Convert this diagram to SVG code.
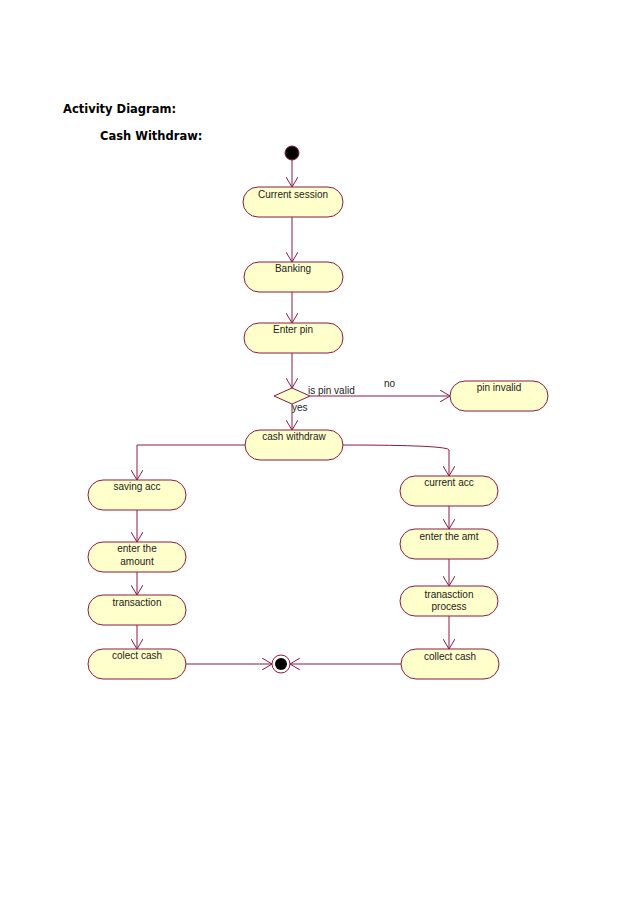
<svg xmlns="http://www.w3.org/2000/svg" width="638" height="903" viewBox="0 0 638 903">
<style>
.n{fill:#ffffcc;stroke:#8b1a45;stroke-width:1}
.t{font-family:"Liberation Sans",Arial,sans-serif;font-size:10px;fill:#222;text-anchor:middle}
.l{font-family:"Liberation Sans",Arial,sans-serif;font-size:10px;fill:#222}
.h{font-family:"DejaVu Sans",sans-serif;font-size:11.5px;font-weight:bold;fill:#000}
.c{fill:none;stroke:#8b1a45;stroke-width:1;marker-end:url(#a)}
</style>
<defs>
<marker id="a" viewBox="0 0 10 12" refX="10" refY="6" markerWidth="10" markerHeight="12" markerUnits="userSpaceOnUse" orient="auto">
<path d="M0,0 L10,6 L0,12" fill="none" stroke="#8b1a45" stroke-width="1"/>
</marker>
</defs>
<rect width="638" height="903" fill="#fff"/>
<text class="h" x="63" y="113">Activity Diagram:</text>
<text class="h" x="100" y="140">Cash Withdraw:</text>
<g id="connectors">
<path class="c" d="M292,160 V187"/>
<path class="c" d="M292,217 V262"/>
<path class="c" d="M292,292 V323"/>
<path class="c" d="M292,353 V388"/>
<path class="c" d="M310,396 H450"/>
<path class="c" d="M292,404 V430"/>
<path class="c" d="M245,445 H137 V480"/>
<path class="c" d="M343,445 Q449,445 449,450 V476"/>
<path class="c" d="M137,510 V542"/>
<path class="c" d="M137,572 V595"/>
<path class="c" d="M137,625 V649"/>
<path class="c" d="M186,664 H272"/>
<path class="c" d="M449,506 V529"/>
<path class="c" d="M449,559 V586"/>
<path class="c" d="M449,616 V649"/>
<path class="c" d="M401,664 H290"/>
</g>
<g id="start"><circle cx="292" cy="153" r="7" fill="#000" stroke="#8b1a45"/></g>
<g id="current-session"><rect class="n" x="243" y="187" width="100" height="30" rx="15"/><text class="t" x="293" y="198">Current session</text></g>
<g id="banking"><rect class="n" x="244" y="262" width="99" height="30" rx="15"/><text class="t" x="293" y="272">Banking</text></g>
<g id="enter-pin"><rect class="n" x="244" y="323" width="99" height="30" rx="15"/><text class="t" x="293" y="333">Enter pin</text></g>
<g id="decision"><path class="n" d="M274,396 L292,388 L310,396 L292,404 Z"/></g>
<text class="l" x="308" y="394">is pin valid</text>
<text class="l" x="384" y="387">no</text>
<text class="l" x="292" y="411">yes</text>
<g id="pin-invalid"><rect class="n" x="450" y="381" width="98" height="30" rx="15"/><text class="t" x="499" y="391">pin invalid</text></g>
<g id="cash-withdraw"><rect class="n" x="245" y="430" width="98" height="30" rx="15"/><text class="t" x="294" y="440">cash withdraw</text></g>
<g id="saving-acc"><rect class="n" x="88" y="480" width="98" height="30" rx="15"/><text class="t" x="137" y="490">saving acc</text></g>
<g id="enter-amount"><rect class="n" x="88" y="542" width="98" height="30" rx="15"/><text class="t" x="137" y="552">enter the</text><text class="t" x="137" y="565">amount</text></g>
<g id="transaction"><rect class="n" x="88" y="595" width="98" height="30" rx="15"/><text class="t" x="137" y="606">transaction</text></g>
<g id="colect-cash"><rect class="n" x="88" y="649" width="98" height="30" rx="15"/><text class="t" x="137" y="659">colect cash</text></g>
<g id="end"><circle cx="281" cy="664" r="9" fill="#fff" stroke="#8b1a45"/><circle cx="281" cy="664" r="6" fill="#000"/></g>
<g id="current-acc"><rect class="n" x="400" y="476" width="98" height="30" rx="15"/><text class="t" x="449" y="486">current acc</text></g>
<g id="enter-amt"><rect class="n" x="400" y="529" width="98" height="30" rx="15"/><text class="t" x="449" y="540">enter the amt</text></g>
<g id="tranasction-process"><rect class="n" x="400" y="586" width="98" height="30" rx="15"/><text class="t" x="449" y="598">tranasction</text><text class="t" x="449" y="610">process</text></g>
<g id="collect-cash"><rect class="n" x="401" y="649" width="98" height="30" rx="15"/><text class="t" x="450" y="660">collect cash</text></g>
</svg>
